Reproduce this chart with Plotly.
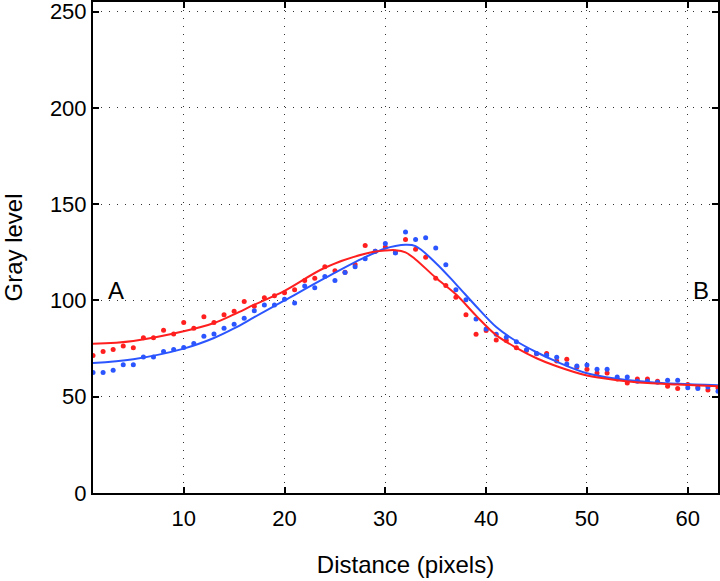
import plotly.graph_objects as go

# ---- data ----
x_pts = list(range(1, 64))

red_pts = [71.4, 73.5, 74.5, 76.4, 75.4, 80.6, 80.6, 84.5, 82.6, 88.5,
           85.6, 91.6, 88.5, 92.6, 94.4, 99.5, 97.0, 101.4, 102.5, 104.0,
           105.6, 110.4, 111.5, 117.5, 115.4, 114.6, 118.7, 128.6, 125.6, 127.7,
           125.0, 131.6, 126.6, 122.5, 111.5, 107.7, 101.6, 92.6, 82.5, 84.4,
           79.4, 79.2, 75.4, 74.0, 72.3, 72.4, 68.5, 69.5, 65.4, 64.3,
           62.3, 62.3, 59.2, 57.1, 59.2, 59.2, 58.1, 55.4, 54.3, 56.4,
           55.0, 53.5, 54.5]

blue_pts = [62.6, 62.6, 63.7, 66.6, 66.6, 70.6, 70.6, 73.5, 74.5, 75.6,
            77.6, 81.4, 82.6, 85.6, 87.6, 90.7, 94.7, 97.6, 97.6, 100.6,
            98.7, 107.5, 106.6, 112.5, 110.4, 114.5, 117.5, 121.6, 125.5, 129.6,
            124.7, 135.6, 131.6, 132.5, 127.3, 118.5, 105.6, 100.4, 90.4, 85.2,
            82.5, 80.9, 78.5, 74.4, 72.5, 71.5, 70.5, 67.0, 66.0, 66.5,
            64.3, 64.3, 60.2, 60.2, 58.1, 58.1, 57.5, 58.5, 58.5, 54.7,
            54.3, 55.0, 52.8]

# fitted curves (sampled)
fit_x = [1, 5, 10, 13, 15, 17, 20, 24, 28, 30, 31, 32, 33, 35, 37, 39, 41, 43, 45, 47, 50, 53, 56, 59, 63]
red_fit = [77.5, 79.0, 84.0, 88.3, 92.8, 97.8, 105.0, 117.0, 124.3, 125.9, 126.1, 125.0, 121.3, 111.8, 103.2, 92.1, 82.0, 75.4, 70.0, 65.8, 61.0, 58.6, 57.1, 56.3, 55.4]
blue_fit = [67.5, 69.5, 75.0, 80.5, 85.5, 91.3, 100.0, 111.6, 122.5, 127.0, 128.3, 128.9, 128.2, 119.5, 108.5, 97.0, 86.2, 78.8, 73.1, 68.2, 62.2, 59.3, 57.7, 56.7, 55.9]

x_ticks = [10, 20, 30, 40, 50, 60]
y_ticks = [0, 50, 100, 150, 200, 250]

RED = "#ff1f1f"
BLUE = "#2b55ff"

fig = go.Figure()
fig.add_trace(go.Scatter(x=x_pts, y=red_pts, mode="markers",
                         marker=dict(color=RED, size=5), showlegend=False))
fig.add_trace(go.Scatter(x=x_pts, y=blue_pts, mode="markers",
                         marker=dict(color=BLUE, size=5), showlegend=False))
fig.add_trace(go.Scatter(x=fit_x, y=blue_fit, mode="lines", line_shape="spline",
                         line=dict(color=BLUE, width=2), showlegend=False))
fig.add_trace(go.Scatter(x=fit_x, y=red_fit, mode="lines", line_shape="spline",
                         line=dict(color=RED, width=2), showlegend=False))

fig.add_annotation(x=3.3, y=105, text="A", showarrow=False,
                   font=dict(size=24, color="black"))
fig.add_annotation(x=61.3, y=105, text="B", showarrow=False,
                   font=dict(size=24, color="black"))

axis_common = dict(
    showline=True, linecolor="black", linewidth=2, mirror="ticks",
    ticks="inside", ticklen=6, tickwidth=1.5, tickcolor="black",
    showgrid=True, gridcolor="#333333", griddash="1px,7px", gridwidth=1,
    zeroline=False, tickfont=dict(size=22, color="black"), automargin=False,
    ticklabeloverflow="allow",
)

fig.update_xaxes(range=[1, 63], tickvals=x_ticks, ticklabelstandoff=5,
                 title=dict(text="Distance (pixels)", font=dict(size=24, color="black"), standoff=26),
                 **axis_common)
fig.update_yaxes(range=[0, 255], tickvals=y_ticks,
                 title=dict(text="Gray level", font=dict(size=24, color="black"), standoff=20),
                 **axis_common)

fig.update_layout(
    width=720, height=581,
    margin=dict(l=93, r=2, t=2, b=88),
    paper_bgcolor="white", plot_bgcolor="white",
    font=dict(family="Liberation Sans, Arial, sans-serif", color="black"),
)

fig.write_html("out.html", config={"displayModeBar": False},
               post_script="document.body.style.margin='0';")
